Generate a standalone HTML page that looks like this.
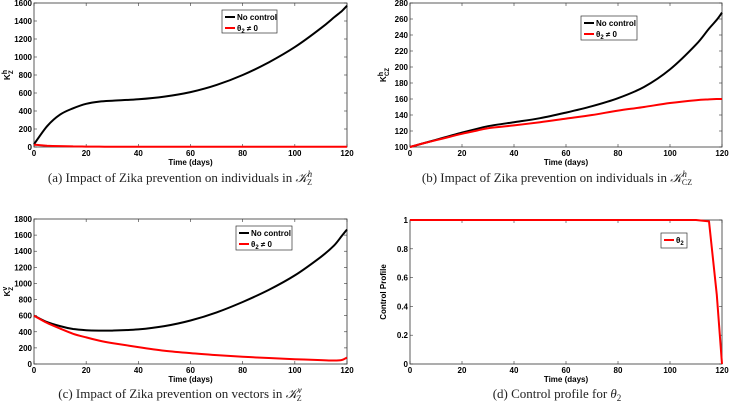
<!DOCTYPE html>
<html><head><meta charset="utf-8">
<style>
body{margin:0;background:#fff;width:729px;height:404px;overflow:hidden}
svg{display:block}
.tk{font:bold 8px "Liberation Sans",sans-serif;fill:#000}
.cap{font:13px "Liberation Serif",serif;fill:#222}
</style></head><body>
<svg id="c" width="729" height="404" xmlns="http://www.w3.org/2000/svg"></svg>
<script>
const days=[0,5,10,15,20,25,30,40,50,60,70,80,90,100,110,115,118,120];
const aNoCtrl=[30,230,360,430,480,505,515,530,560,610,690,800,940,1110,1320,1440,1510,1570];
const aCtrl=[25,15,10,7,5,4,3,3,3,3,3,3,3,3,3,3,3,3];
const bNoCtrl=[100,104.5,109,113.5,118,122,126,131,136,143,151,161,175,197,228,248,259,268];
const bCtrl=[100,104.5,108.5,112.5,116.5,120,123.5,127,131,135.5,140,145.5,150,155,158.5,159.5,160,160];
const cNoCtrl=[600,520,470,435,420,415,415,430,470,540,640,770,920,1100,1330,1470,1590,1670];
const cCtrl=[600,510,440,375,330,290,260,210,165,135,110,90,75,60,48,43,50,80];
const dCtrl=[1,1,1,1,1,1,1,1,1,1,1,1,1,1,1,0.99,0.48,0];
const xTicks=[0,20,40,60,80,100,120];
const aTicks=[0,200,400,600,800,1000,1200,1400,1600];
const bTicks=[100,120,140,160,180,200,220,240,260,280];
const cTicks=[0,200,400,600,800,1000,1200,1400,1600,1800];
const dTicks=[0,0.2,0.4,0.6,0.8,1];
const dTickLabels=['0','0.2','0.4','0.6','0.8','1'];

const svg=document.getElementById('c');
const NS='http://www.w3.org/2000/svg';
function mk(tag,attrs,parent){const e=document.createElementNS(NS,tag);for(const k in attrs)e.setAttribute(k,attrs[k]);(parent||svg).appendChild(e);return e;}
function smooth(P){let d='M'+P[0][0].toFixed(1)+','+P[0][1].toFixed(1);
  for(let i=0;i<P.length-1;i++){const p0=P[i-1]||P[i],p1=P[i],p2=P[i+1],p3=P[i+2]||p2;
    const c1=[p1[0]+(p2[0]-p0[0])/6,p1[1]+(p2[1]-p0[1])/6],c2=[p2[0]-(p3[0]-p1[0])/6,p2[1]-(p3[1]-p1[1])/6];
    d+=`C${c1[0].toFixed(1)},${c1[1].toFixed(1)} ${c2[0].toFixed(1)},${c2[1].toFixed(1)} ${p2[0].toFixed(1)},${p2[1].toFixed(1)}`;}
  return d;}

function panel(id,x0,x1,yTop,yBot,ymin,ymax,yt,ytl,series,yLabel,yLabelSub,leg,caption,capX,capY){
  const g=mk('g',{});
  
  
  const sx=v=>x0+(v-0)/120*(x1-x0);
  const sy=v=>yBot-(v-ymin)/(ymax-ymin)*(yBot-yTop);
  const fr=mk('rect',{x:x0,y:yTop,width:x1-x0,height:yBot-yTop,fill:'#fff',stroke:'#333','stroke-width':0.8},g);
  
  
  xTicks.forEach(t=>{const X=sx(t);
    mk('line',{x1:X,x2:X,y1:yBot,y2:yBot-3,stroke:'#333','stroke-width':0.6},g);
    mk('line',{x1:X,x2:X,y1:yTop,y2:yTop+3,stroke:'#333','stroke-width':0.6},g);
    const tx=mk('text',{x:X,y:yBot+9,'text-anchor':'middle',class:'tk'},g);tx.textContent=t;
    
    });
  yt.forEach((t,i)=>{const Y=sy(t);
    mk('line',{x1:x0,x2:x0+3,y1:Y,y2:Y,stroke:'#333','stroke-width':0.6},g);
    mk('line',{x1:x1,x2:x1-3,y1:Y,y2:Y,stroke:'#333','stroke-width':0.6},g);
    const tx=mk('text',{x:x0-2,y:Y+3,'text-anchor':'end',class:'tk'},g);tx.textContent=ytl?ytl[i]:t;
    
    });
  const xt=mk('text',{x:(x0+x1)/2,y:yBot+18,'text-anchor':'middle',class:'tk'},g);xt.textContent='Time (days)';
  
  
  const cy=(yTop+yBot)/2;
  const yl=mk('text',{x:0,y:0,'text-anchor':'middle',class:'tk',transform:`translate(${x0-24},${cy}) rotate(-90)`},g);
  
  
  if(yLabelSub!==null){yl.textContent='K';const s1=mk('tspan',{dy:-3,'font-size':'7'},yl);s1.textContent=yLabelSub[0];const s2=mk('tspan',{dy:6,dx:-4,'font-size':'6'},yl);s2.textContent=yLabelSub[1];}
  else yl.textContent=yLabel;
  series.forEach(s=>{
    const P=days.map((t,i)=>[sx(t),sy(s.v[i])]);
    const d=s.lin?P.map((p,i)=>(i?'L':'M')+p[0].toFixed(1)+','+p[1].toFixed(1)).join(''):smooth(P);
    const p=mk('path',{d:d,fill:'none',stroke:s.c,'stroke-width':2,'stroke-linejoin':'round'},g);
    
    });
  const lg=mk('g',{},g);
  
  
  mk('rect',{x:leg.x,y:leg.y,width:leg.w,height:leg.h,fill:'#fff',stroke:'#333','stroke-width':0.7},lg);
  leg.items.forEach((it,i)=>{const Y=leg.y+7+i*11;
    mk('line',{x1:leg.x+3,x2:leg.x+13,y1:Y,y2:Y,stroke:it.c,'stroke-width':2},lg);
    const t=mk('text',{x:leg.x+15,y:Y+3,class:'tk'},lg);
    
    
    if(it.t==='No control')t.textContent='No control';
    else{t.textContent='θ';const s=mk('tspan',{dy:2,'font-size':'6'},t);s.textContent='2';if(it.t!=='theta2'){const s2=mk('tspan',{dy:-2},t);s2.textContent=' ≠ 0';}}
  });
  const cp=mk('text',{x:capX,y:capY,'text-anchor':'middle',class:'cap'},svg);
  
  
  cp.innerHTML=caption;
}
const legItems=[{t:'No control',c:'#000'},{t:'ne',c:'#f00'}];
panel('panel-a',34,347,3,147,0,1600,aTicks,null,
  [{v:aNoCtrl,c:'#000',n:'no-control-line'},{v:aCtrl,c:'#f00',n:'control-line'}],'',['h','Z'],
  {x:222,y:10,w:55,h:23,items:legItems},
  '(a) Impact of Zika prevention on individuals in <tspan font-style="italic">𝒦</tspan><tspan dy="-5" font-size="9" font-style="italic">h</tspan><tspan dy="8" dx="-5" font-size="8">Z</tspan>',180,182);
panel('panel-b',410,722,3,147,100,280,bTicks,null,
  [{v:bNoCtrl,c:'#000',n:'no-control-line'},{v:bCtrl,c:'#f00',n:'control-line'}],'',['h','CZ'],
  {x:581,y:16,w:56,h:24,items:legItems},
  '(b) Impact of Zika prevention on individuals in <tspan font-style="italic">𝒦</tspan><tspan dy="-5" font-size="9" font-style="italic">h</tspan><tspan dy="8" dx="-5" font-size="8">CZ</tspan>',557,182);
panel('panel-c',34,347,219,364,0,1800,cTicks,null,
  [{v:cNoCtrl,c:'#000',n:'no-control-line'},{v:cCtrl,c:'#f00',n:'control-line'}],'',['v','Z'],
  {x:236,y:226,w:56,h:24,items:legItems},
  '(c) Impact of Zika prevention on vectors in <tspan font-style="italic">𝒦</tspan><tspan dy="-5" font-size="9" font-style="italic">v</tspan><tspan dy="8" dx="-5" font-size="8">Z</tspan>',180,398);
panel('panel-d',410,722,220,364,0,1,dTicks,dTickLabels,
  [{v:dCtrl,c:'#f00',n:'theta2-line',lin:true}],'Control Profile',null,
  {x:661,y:233,w:26,h:15,items:[{t:'theta2',c:'#f00'}]},
  '(d) Control profile for <tspan font-style="italic">θ</tspan><tspan dy="3" font-size="9">2</tspan>',557,398);
</script>
</body></html>
